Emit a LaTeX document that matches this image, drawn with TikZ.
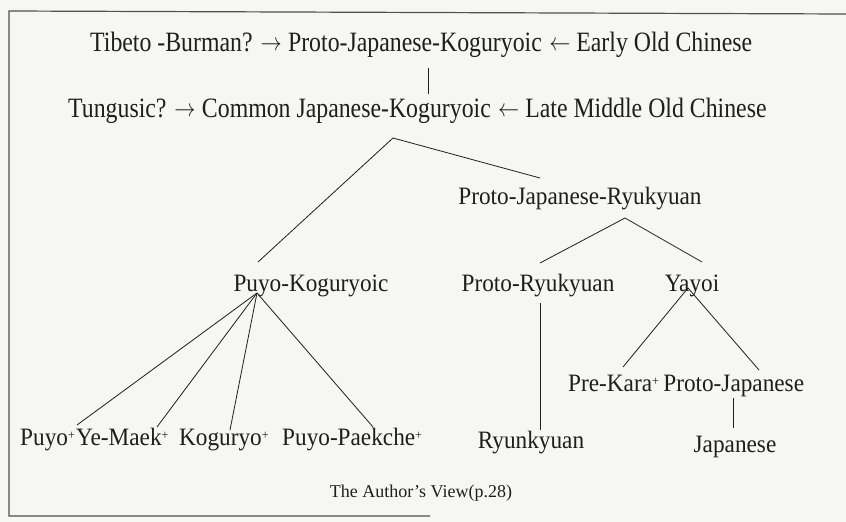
\documentclass[tikz,border=0pt]{standalone}
\usepackage{fontspec}
\setmainfont{Liberation Serif}
\definecolor{ink}{RGB}{30,30,30}
\definecolor{paper}{RGB}{246,246,244}
\definecolor{framec}{RGB}{80,80,80}
\newcommand{\pl}{\raisebox{0.5ex}{\fontsize{13}{13}\selectfont +}}
\newcommand{\cx}[1]{\scalebox{0.93}[1]{#1}}
\newcommand{\tx}[1]{\scalebox{0.85}[1]{#1}}
\newcommand{\rar}{\raisebox{0.05ex}{$\rightarrow$}}
\newcommand{\lar}{\raisebox{0.05ex}{$\leftarrow$}}
\begin{document}
\begin{tikzpicture}[x=1pt,y=-1pt,
  lbl/.style={inner sep=0pt, font=\fontsize{25}{28}\selectfont, text=ink},
  toplbl/.style={inner sep=0pt, font=\fontsize{28}{30}\selectfont, text=ink},
  captionlbl/.style={inner sep=0pt, font=\fontsize{18}{20}\selectfont, text=ink},
  edge/.style={draw=ink, line width=0.8pt},
  framel/.style={draw=framec, line width=1.2pt}]
\fill[paper] (0,0) rectangle (846,522);
\useasboundingbox (0,0) rectangle (846,522);
% frame
\coordinate (f1) at (846,14);
\coordinate (f2) at (9,11);
\coordinate (f3) at (9,516);
\coordinate (f4) at (430,516);
\draw[framel] (f1) -- (f2) -- (f3) -- (f4);

% row 1
\node[toplbl, anchor=base west] (tb) at (90,51) {\tx{Tibeto -Burman? \rar}};
\node[toplbl, anchor=base west] (pjk) at ([xshift=6pt]tb.base east) {\tx{Proto-Japanese-Koguryoic}};
\node[toplbl, anchor=base west] (eoc) at ([xshift=7pt]pjk.base east) {\tx{\lar\ Early Old Chinese}};
% row 2
\node[toplbl, anchor=base west] (tg) at (68,117) {\tx{Tungusic? \rar}};
\node[toplbl, anchor=base west] (cjk) at ([xshift=6pt]tg.base east) {\tx{Common Japanese-Koguryoic}};
\node[toplbl, anchor=base west] (lmoc) at ([xshift=7pt]cjk.base east) {\tx{\lar\ Late Middle Old Chinese}};

\coordinate (v1) at (428,68);
\coordinate (v2) at (428,94);
\draw[edge] (v1) -- (v2);

% level 3
\node[lbl, anchor=base] (pjr) at (580,204) {\cx{Proto-Japanese-Ryukyuan}};
\node[lbl, anchor=base] (pk) at (311,291) {\cx{Puyo-Koguryoic}};
\node[lbl, anchor=base] (pr) at (538,291) {\cx{Proto-Ryukyuan}};
\node[lbl, anchor=base] (ya) at (692,291) {\cx{Yayoi}};

% bottom rows
\node[lbl, anchor=base west] (puyo) at (20,445) {\cx{Puyo\pl}};
\node[lbl, anchor=base west] (yem) at (76,445) {\cx{Ye-Maek\pl}};
\node[lbl, anchor=base west] (kog) at (179,445) {\cx{Koguryo\pl}};
\node[lbl, anchor=base west] (pp) at (282,445) {\cx{Puyo-Paekche\pl}};
\node[lbl, anchor=base] (ryu) at (531,448) {\cx{Ryunkyuan}};
\node[lbl, anchor=base west] (pkara) at (568,391) {\cx{Pre-Kara\pl}};
\node[lbl, anchor=base west] (pjp) at ([xshift=4pt]pkara.base east) {\cx{Proto-Japanese}};
\node[lbl, anchor=base] (jp) at (735,452) {\cx{Japanese}};
\node[captionlbl, anchor=base] (caption) at (421,497) {The Author’s View(p.28)};

% connectors
\coordinate (cjkb) at (393,138);
\coordinate (pkt) at (258,262);
\coordinate (pjrt) at (540,178);
\draw[edge] (cjkb) -- (pkt);
\draw[edge] (cjkb) -- (pjrt);

\coordinate (pjrb) at (625,218);
\coordinate (prt) at (540,263);
\coordinate (yat) at (702,262);
\draw[edge] (pjrb) -- (prt);
\draw[edge] (pjrb) -- (yat);

\coordinate (pkb) at (257,293);
\coordinate (e1) at (77,425);
\coordinate (e2) at (157,427);
\coordinate (e3) at (230,430);
\coordinate (e4) at (373,427);
\draw[edge] (pkb) -- (e1);
\draw[edge] (pkb) -- (e2);
\draw[edge] (pkb) -- (e3);
\draw[edge] (pkb) -- (e4);

\coordinate (prb) at (540,303);
\coordinate (ryt) at (540,430);
\draw[edge] (prb) -- (ryt);

\coordinate (yab) at (688,288);
\coordinate (pkat) at (623,367);
\coordinate (pjpt) at (759,370);
\draw[edge] (yab) -- (pkat);
\draw[edge] (yab) -- (pjpt);

\coordinate (pjpb) at (733,398);
\coordinate (jpt) at (733,428);
\draw[edge] (pjpb) -- (jpt);
\end{tikzpicture}
\end{document}
